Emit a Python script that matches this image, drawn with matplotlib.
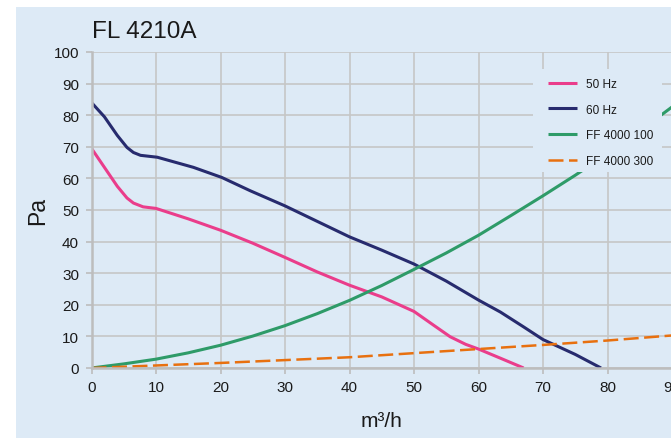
import matplotlib.pyplot as plt
from matplotlib.patches import Rectangle

plt.rcParams['font.family'] = ['Liberation Sans', 'DejaVu Sans']

# 50 Hz fan curve (m3/h, Pa)
hz50_x = [0, 2, 4, 5.5, 6.5, 8, 10, 15, 20, 25, 30, 35, 40, 45, 50, 53, 55.6, 58, 60, 63.4, 67]
hz50_y = [69.5, 63.5, 57.5, 53.8, 52.2, 51, 50.5, 47.2, 43.6, 39.5, 35, 30.4, 26.2, 22.5, 17.9,
          13.6, 9.9, 7.5, 6, 3.1, 0]

# 60 Hz fan curve
hz60_x = [0, 2, 4, 5.5, 6.5, 7.6, 10.2, 15.8, 20.2, 24.6, 30, 35, 40, 45, 50, 55, 60, 63.4,
          67, 70, 75, 79]
hz60_y = [84, 79.5, 73.6, 69.8, 68.2, 67.3, 66.7, 63.5, 60.3, 56.1, 51.3, 46.4, 41.5, 37.3,
          32.9, 27.5, 21.5, 17.7, 13, 9, 4.3, 0]

# FF 4000 100 duct resistance
ff100_x = [0, 5, 10, 15, 20, 25, 30, 35, 40, 45, 50, 55, 60, 65, 70, 75, 80, 85, 90]
ff100_y = [0, 1.3, 2.8, 4.8, 7.2, 10.1, 13.4, 17.2, 21.4, 26.1, 31.2, 36.4, 42, 48.2, 54.5, 61,
           67.8, 75, 82.6]

# FF 4000 300 duct resistance
ff300_x = [0, 10, 20, 30, 40, 50, 60, 70, 80, 90, 100]
ff300_y = [0, 0.8, 1.6, 2.5, 3.4, 4.7, 6.0, 7.3, 8.7, 10.3, 12]

x_ticks = [0, 10, 20, 30, 40, 50, 60, 70, 80, 90, 100]
y_ticks = [0, 10, 20, 30, 40, 50, 60, 70, 80, 90, 100]

bg = '#DDEAF6'
grid_c = '#C6C6C6'

fig = plt.figure(figsize=(6.71, 4.39), dpi=100)
fig.patch.set_facecolor('white')
fig.patches.append(Rectangle((16 / 671, 0), 1, 1 - 8 / 439, transform=fig.transFigure,
                             facecolor=bg, edgecolor='none', zorder=-10))

ax = fig.add_axes([91.5 / 671, 70 / 439, 645 / 671, 316 / 439])
ax.set_facecolor(bg)

ax.plot(hz50_x, hz50_y, color='#EA3D8B', lw=2.2, label='50 Hz', solid_capstyle='butt')
ax.plot(hz60_x, hz60_y, color='#272B6E', lw=2.2, label='60 Hz', solid_capstyle='butt')
ax.plot(ff100_x, ff100_y, color='#2E9B68', lw=2.2, label='FF 4000 100', solid_capstyle='butt')
ax.plot(ff300_x, ff300_y, color='#E8700F', lw=1.8, dashes=(6, 2.2), label='FF 4000 300')

ax.set_xlim(0, 100)
ax.set_ylim(0, 100)
ax.set_xticks(x_ticks)
ax.set_yticks(y_ticks)
ax.grid(True, color=grid_c, lw=1.2)
ax.set_axisbelow(True)
for s in ['top', 'right']:
    ax.spines[s].set_visible(False)
for s in ['left', 'bottom']:
    ax.spines[s].set_color('#BDBDBD')
    ax.spines[s].set_linewidth(1.8)
ax.tick_params(length=4, width=1.2, color='#BDBDBD', labelsize=11, pad=5,
               labelcolor='#1A1A1A')

ax.set_ylabel('Pa', fontsize=16.5, labelpad=3, color='#1A1A1A')
ax.set_xlabel('m³/h', fontsize=15, labelpad=9, color='#1A1A1A')
ax.xaxis.set_label_coords(290 / 645, -0.135)

fig.text(92 / 671, 1 - 38 / 439, 'FL 4210A', fontsize=17.5, color='#1A1A1A')

# legend background box (covers grid and curves, like the original)
ax.add_patch(Rectangle((533 / 671, 1 - 173 / 439), 129 / 671, 103 / 439,
                       transform=fig.transFigure, facecolor=bg, edgecolor='none',
                       zorder=4, clip_on=False))

leg = ax.legend(loc='upper left', bbox_to_anchor=(548 / 671, 1 - 79 / 439),
                bbox_transform=fig.transFigure, fontsize=8.5, frameon=False,
                handlelength=2.45, handletextpad=0.76, labelspacing=1.15,
                borderpad=0, borderaxespad=0)
leg.set_zorder(5)
for t in leg.get_texts():
    t.set_color('#1A1A1A')

fig.savefig('out.png', dpi=100, facecolor=fig.get_facecolor())
